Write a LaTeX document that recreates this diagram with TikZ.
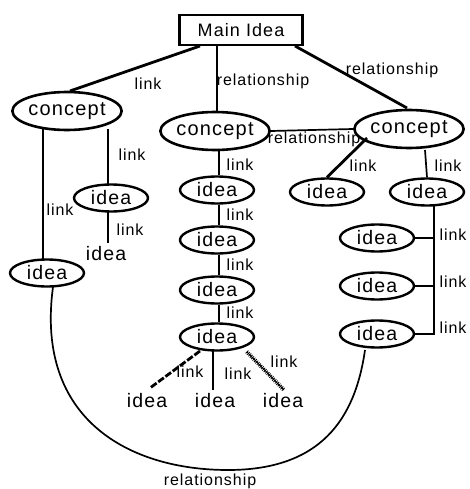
\documentclass[tikz,border=0pt]{standalone}
\usepackage{fontspec}
\setmainfont{Liberation Sans}[LetterSpace=6]
\usetikzlibrary{shapes.geometric,decorations.pathreplacing}
\begin{document}
\begin{tikzpicture}[x=1pt,y=-1pt,
  box/.style={draw,line width=2.4pt,rectangle,minimum width=123pt,minimum height=30pt,inner sep=0pt,font=\fontsize{18}{18}\selectfont},
  concept/.style={draw,line width=2.6pt,ellipse,minimum width=106pt,minimum height=38pt,inner sep=0pt,font=\fontsize{20}{20}\selectfont},
  idea/.style={draw,line width=2.4pt,ellipse,minimum width=74pt,minimum height=27pt,inner sep=0pt,font=\fontsize{19.5}{19.5}\selectfont},
  plain/.style={inner sep=0pt,font=\fontsize{19.5}{19.5}\selectfont},
  lbl/.style={inner sep=0pt,font=\fontsize{16}{16}\selectfont},
  thk/.style={line width=2.8pt},
  thn/.style={line width=1.7pt}]
\useasboundingbox (0,0) rectangle (470,489);
% nodes
\node[box] (main) at (241,30) {Main Idea};
\node[concept] (c1) at (67,111) {concept};
\node[concept] (c2) at (215,131) {concept};
\node[concept] (c3) at (409,129) {concept};
\node[idea] (i1) at (111,198) {idea};
\node[idea] (i2) at (47,273) {idea};
\node[plain] (t1) at (106,254) {idea};
\node[idea] (m1) at (217,190) {idea};
\node[idea] (m2) at (217,240) {idea};
\node[idea] (m3) at (217,290) {idea};
\node[idea] (m4) at (217,337) {idea};
\node[plain] (b1) at (147,401) {idea};
\node[plain] (b2) at (215,401) {idea};
\node[plain] (b3) at (283,401) {idea};
\node[idea] (r1) at (327,192) {idea};
\node[idea] (r2) at (427,192) {idea};
\node[idea] (r3) at (377,238) {idea};
\node[idea] (r4) at (377,286) {idea};
\node[idea] (r5) at (377,334) {idea};
% coordinates
\coordinate (a1) at (200,46);
\coordinate (a2) at (70,91);
\coordinate (a3) at (217,45);
\coordinate (a4) at (295,46);
\coordinate (a5) at (407,108);
\coordinate (c1l) at (43,129);
\coordinate (c1r) at (108,129);
\coordinate (i2t) at (43,260);
\coordinate (i1t) at (108,186);
\coordinate (i1b) at (108,210);
\coordinate (t1t) at (108,243);
\coordinate (v0) at (434,206);
\coordinate (v1) at (434,238);
\coordinate (v2) at (434,286);
\coordinate (v3) at (434,330);
\coordinate (d1) at (200,351);
\coordinate (d2) at (150,388);
\coordinate (e1) at (213,351);
\coordinate (e2) at (213,390);
\coordinate (h1) at (247,352);
\coordinate (h2) at (284,390);
% connectors
\draw[thk] (a1) -- (a2);
\draw[thk] (a3) -- (c2.north -| a3);
\draw[thk] (a4) -- (a5);
\draw[thn] (c1l) -- (i2t);
\draw[thn] (c1r) -- (i1t);
\draw[thn] (i1b) -- (t1t);
\draw[thn] (c2.east) -- (c3.west);
\draw[thn] (219,149) -- (m1.north -| 219,0);
\draw[thn] (m1.south -| 219,0) -- (m2.north -| 219,0);
\draw[thn] (m2.south -| 219,0) -- (m3.north -| 219,0);
\draw[thn] (m3.south -| 219,0) -- (m4.north -| 219,0);
\draw[thk,dash pattern=on 7pt off 2pt] (d1) -- (d2);
\draw[thn] (e1) -- (e2);
\draw[line width=1pt] (h1) -- (h2);
\draw[line width=0.8pt,decorate,decoration={ticks,segment length=2pt,amplitude=2pt}] (h1) -- (h2);
\draw[thk] (367,138) -- (r1.north);
\draw[thn] (425,150) -- (r2.north);
\draw[thn] (v0) -- (v3);
\draw[thn] (r3.east) -- (v1);
\draw[thn] (r4.east) -- (v2);
\draw[thn] (r5.east) -- (r5.east -| v3) -- (v3);
\draw[thn] (53,287) .. controls (35,420) and (130,470) .. (228,470) .. controls (320,470) and (355,420) .. (365,350);
% labels
\node[lbl] (l1) at (148,84) {link};
\node[lbl] (l2) at (263,81) {relationship};
\node[lbl] (l3) at (392,70) {relationship};
\node[lbl] (l4) at (314,139) {relationship};
\node[lbl] (l5) at (132,155) {link};
\node[lbl] (l6) at (60,210) {link};
\node[lbl] (l7) at (130,230) {link};
\node[lbl] (l8) at (240,165) {link};
\node[lbl] (l9) at (240,215) {link};
\node[lbl] (l10) at (240,265) {link};
\node[lbl] (l11) at (240,313) {link};
\node[lbl] (l12) at (190,372) {link};
\node[lbl] (l13) at (238,374) {link};
\node[lbl] (l14) at (284,362) {link};
\node[lbl] (l15) at (363,166) {link};
\node[lbl] (l16) at (448,166) {link};
\node[lbl] (l17) at (453,235) {link};
\node[lbl] (l18) at (453,282) {link};
\node[lbl] (l19) at (453,328) {link};
\node[lbl] (l20) at (210,481) {relationship};
\end{tikzpicture}
\end{document}
